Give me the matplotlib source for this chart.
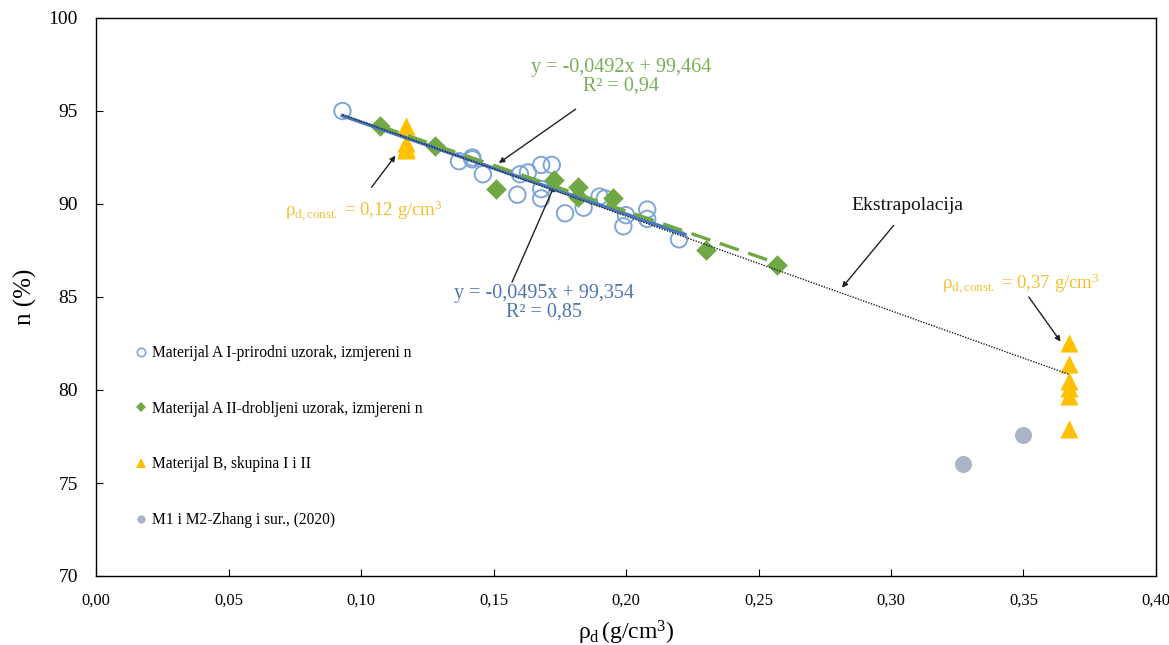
import matplotlib.pyplot as plt
import numpy as np
from matplotlib.lines import Line2D

plt.rcParams.update({
    "font.family": "serif",
    "font.serif": ["Liberation Serif", "DejaVu Serif"],
    "mathtext.fontset": "custom",
    "mathtext.rm": "Liberation Serif",
    "mathtext.it": "Liberation Serif:italic",
    "mathtext.bf": "Liberation Serif:bold",
    "mathtext.default": "regular",
})

# ---------------------------------------------------------------------------
# Data
# ---------------------------------------------------------------------------
a1_rho = [0.093, 0.137, 0.142, 0.142, 0.146, 0.159, 0.160, 0.163, 0.168, 0.172,
          0.168, 0.168, 0.177, 0.184, 0.190, 0.192, 0.199, 0.200, 0.208, 0.208,
          0.220]
a1_n = [95.0, 92.3, 92.5, 92.4, 91.6, 90.5, 91.6, 91.7, 92.1, 92.1,
        90.8, 90.3, 89.5, 89.8, 90.4, 90.3, 88.8, 89.4, 89.7, 89.2,
        88.1]

a2_rho = [0.107, 0.128, 0.151, 0.173, 0.182, 0.182, 0.195, 0.230, 0.257]
a2_n = [94.2, 93.1, 90.8, 91.3, 90.9, 90.4, 90.3, 87.5, 86.7]

b_rho = [0.117, 0.117, 0.117, 0.117, 0.367, 0.367, 0.367, 0.367, 0.367, 0.367]
b_n = [94.2, 93.3, 93.0, 92.9, 82.5, 81.4, 80.5, 80.1, 79.7, 77.9]

zhang_rho = [0.327, 0.350]
zhang_n = [76.0, 77.6]

# trend lines (slope per kg/m3, intercept), x range in g/cm3
fit_a1 = (-0.0495, 99.354)
fit_a1_range = (0.093, 0.222)
fit_a2 = (-0.0492, 99.464)
fit_a2_range = (0.107, 0.257)
fit_extra = (-0.0509, 99.53)
fit_extra_range = (0.093, 0.367)

x_ticks = [0.00, 0.05, 0.10, 0.15, 0.20, 0.25, 0.30, 0.35, 0.40]
y_ticks = [70, 75, 80, 85, 90, 95, 100]

BLUE_EDGE = "#7FA6D6"
BLUE_LINE = "#4A78BE"
BLUE_TEXT = "#4F76B3"
GREEN = "#6FA845"
GREEN_TEXT = "#7AAE55"
YELLOW = "#FFC000"
YELLOW_TEXT = "#F0C030"
GREY = "#A9B4C6"


def fit_line(fit, xr, n=50):
    x = np.linspace(xr[0], xr[1], n)
    return x, fit[0] * x * 1000 + fit[1]


W, H = 1169, 645
fig = plt.figure(figsize=(W / 100, H / 100), dpi=100, facecolor="white")
ax = fig.add_axes([96 / W, 1 - 576 / H, (1156 - 96) / W, (576 - 18) / H])

ax.scatter(a1_rho, a1_n, s=140, facecolors="none", edgecolors=BLUE_EDGE,
           linewidths=1.4, zorder=3)
ax.scatter(a2_rho, a2_n, s=110, marker="D", color=GREEN, linewidths=0, zorder=3)
ax.scatter(b_rho, b_n, s=170, marker="^", color=YELLOW, linewidths=0, zorder=3)
ax.scatter(zhang_rho, zhang_n, s=150, marker="o", color=GREY, linewidths=0,
           zorder=3)

x, y = fit_line(fit_a1, fit_a1_range)
ax.plot(x, y, color=BLUE_LINE, lw=2.6, zorder=4)
x, y = fit_line(fit_a2, fit_a2_range)
ax.plot(x, y, color=GREEN, lw=2.4, ls=(0, (6, 3)), zorder=5)
x, y = fit_line(fit_extra, fit_extra_range)
ax.plot(x, y, color="#222222", lw=1.0, ls=(0, (1, 1)), zorder=6)

ax.set_xlim(0, 0.40)
ax.set_ylim(70, 100)
ax.set_xticks(x_ticks)
ax.set_xticklabels([f"{v:.2f}".replace(".", ",") for v in x_ticks])
ax.set_yticks(y_ticks)
ax.tick_params(direction="in", length=5, width=0.8)
ax.tick_params(axis="x", labelsize=12, pad=12)
ax.tick_params(axis="y", labelsize=14, pad=13)
for sp in ax.spines.values():
    sp.set_linewidth(1.0)
    sp.set_color("black")

ax.set_xlabel("ρ$_{d}\\,$(g/cm$^{3}$)", fontsize=17, labelpad=7)
ax.set_ylabel("n (%)", fontsize=18, labelpad=8)

arrow = dict(arrowstyle="-|>", color="#222222", lw=1.0, mutation_scale=8,
             shrinkA=0, shrinkB=0)

ax.annotate("", xy=(0.152, 92.2), xytext=(0.181, 95.1), arrowprops=arrow)
ax.text(0.1983, 96.85, "y = -0,0492x + 99,464\nR² = 0,94", fontsize=14.5,
        color=GREEN_TEXT, ha="center", va="center", linespacing=1.0)

ax.annotate("", xy=(0.173, 91.0), xytext=(0.157, 85.8), arrowprops=arrow)
ax.text(0.169, 84.7, "y = -0,0495x + 99,354\nR² = 0,85", fontsize=14.5,
        color=BLUE_TEXT, ha="center", va="center", linespacing=1.0)

ax.annotate("", xy=(0.113, 92.6), xytext=(0.104, 90.9), arrowprops=arrow)
ax.text(0.101, 89.65, "ρ$_{d,const.}$ = 0,12 g/cm$^{3}$", fontsize=13.5,
        color=YELLOW_TEXT, ha="center", va="center")

ax.annotate("", xy=(0.364, 82.6), xytext=(0.352, 85.0), arrowprops=arrow)
ax.text(0.349, 85.7, "ρ$_{d,const.}$ = 0,37 g/cm$^{3}$", fontsize=13.5,
        color=YELLOW_TEXT, ha="center", va="center")

ax.annotate("", xy=(0.2815, 85.5), xytext=(0.301, 88.85), arrowprops=arrow)
ax.text(0.306, 89.9, "Ekstrapolacija", fontsize=14, color="#111111",
        ha="center", va="center")

handles = [
    Line2D([0], [0], ls="none", marker="o", ms=6, mfc="none", mec=BLUE_EDGE,
           mew=1.2, label="Materijal A I-prirodni uzorak, izmjereni n"),
    Line2D([0], [0], ls="none", marker="D", ms=5.5, color=GREEN, mew=0,
           label="Materijal A II-drobljeni uzorak, izmjereni n"),
    Line2D([0], [0], ls="none", marker="^", ms=7, color=YELLOW, mew=0,
           label="Materijal B, skupina I i II"),
    Line2D([0], [0], ls="none", marker="o", ms=6, color=GREY, mew=0,
           label="M1 i M2-Zhang i sur., (2020)"),
]
ax.legend(handles=handles, loc="upper left", bbox_to_anchor=(0.031, 0.425),
          frameon=False, fontsize=11.2, labelspacing=2.55, handlelength=0.8,
          handletextpad=0.3, borderaxespad=0)

fig.savefig("out.png", dpi=100, facecolor="white")
plt.close(fig)
